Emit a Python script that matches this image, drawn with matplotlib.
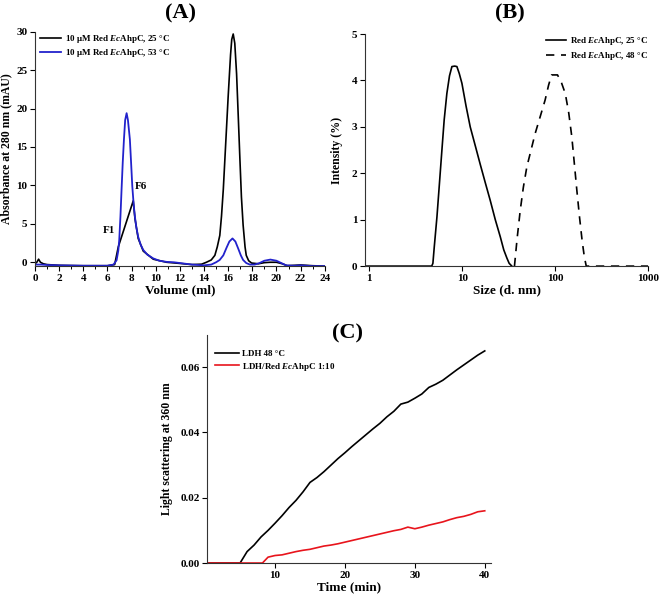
import numpy as np
import matplotlib.pyplot as plt
from matplotlib.ticker import MultipleLocator, FixedLocator, NullLocator

plt.rcParams['font.family'] = ['Liberation Serif', 'DejaVu Serif']
plt.rcParams['font.weight'] = 'bold'
plt.rcParams['mathtext.fontset'] = 'custom'
plt.rcParams['mathtext.it'] = 'Liberation Serif:italic:bold'
plt.rcParams['mathtext.rm'] = 'Liberation Serif:bold'

# (A) size exclusion chromatography
vol_25 = [0, 0.15, 0.3, 0.45, 0.7, 1, 2, 4, 6, 6.6, 6.9, 8.14, 8.28, 8.55, 8.97, 9.8, 10.9,
          12, 13, 13.8, 14.2, 14.6, 14.9, 15.1, 15.31, 15.45, 15.6, 15.8, 16.0, 16.2, 16.3,
          16.42, 16.55, 16.7, 16.85, 16.97, 17.1, 17.24, 17.4, 17.5, 17.7, 17.94, 18.5, 19,
          19.5, 20, 20.5, 20.9, 22, 23, 24]
abs_25 = [-0.2, 0.0, 0.4, 0.0, -0.2, -0.3, -0.4, -0.45, -0.45, -0.3, 2.0, 8.0, 5.7, 3.1,
          1.45, 0.4, 0.0, -0.15, -0.3, -0.25, 0.0, 0.3, 0.9, 2.0, 3.5, 6.0, 9.5, 15.5, 21.5,
          27.0, 29.0, 29.7, 28.5, 24.5, 18.5, 13.6, 8.5, 4.85, 2.0, 0.9, 0.2, -0.1, -0.2,
          -0.05, 0.0, 0.0, -0.2, -0.45, -0.35, -0.45, -0.5]
vol_53 = [0, 0.5, 1, 2, 4, 6, 6.5, 6.76, 6.9, 6.98, 7.08, 7.17, 7.27, 7.37, 7.47, 7.59, 7.7,
          7.86, 7.96, 8.06, 8.17, 8.28, 8.4, 8.55, 8.75, 8.97, 9.3, 9.8, 10.3, 10.9, 11.5,
          12, 13, 14, 14.6, 15.0, 15.3, 15.6, 15.87, 16.1, 16.36, 16.6, 16.83, 17.05, 17.24,
          17.5, 17.8, 18.2, 18.6, 19, 19.5, 20, 20.4, 20.8, 21.5, 22, 23, 24]
abs_53 = [-0.3, -0.3, -0.35, -0.4, -0.45, -0.45, -0.3, 0.26, 1.5, 2.9, 6.0, 9.4, 13.0, 16.0,
          18.5, 19.4, 18.5, 16.0, 13.0, 9.9, 7.6, 5.9, 4.5, 3.3, 2.3, 1.6, 1.0, 0.5, 0.2,
          0.05, 0.0, -0.1, -0.3, -0.4, -0.3, 0.0, 0.3, 0.9, 1.9, 2.7, 3.1, 2.7, 1.8, 0.9, 0.3,
          -0.1, -0.3, -0.3, -0.1, 0.2, 0.35, 0.2, -0.1, -0.4, -0.45, -0.4, -0.5, -0.5]

# (B) DLS size distributions
size_25 = [0.9, 4.7, 4.84, 5.0, 5.35, 5.7, 6.05, 6.4, 6.84, 7.3, 7.75, 8.3, 8.77, 9.3, 9.93,
           11.0, 12.2, 13.8, 15.6, 17.7, 20.0, 22.7, 25.7, 28.0, 30.3, 32.0, 34.2]
int_25 = [0, 0, 0.06, 0.4, 1.06, 1.8, 2.5, 3.15, 3.72, 4.1, 4.3, 4.31, 4.3, 4.15, 3.94,
          3.45, 3.0, 2.6, 2.2, 1.8, 1.42, 1.0, 0.63, 0.35, 0.17, 0.06, 0]
size_48 = [36.5, 39.0, 42.1, 45.5, 49.6, 55.0, 61.0, 69.0, 78.0, 85.0, 91.6, 106.0, 117.0,
           128.5, 140.0, 151.0, 161.0, 171.0, 183.0, 195.0, 206.0, 216.0, 1000.0]
int_48 = [0, 0.6, 1.2, 1.7, 2.14, 2.5, 2.86, 3.22, 3.58, 3.9, 4.12, 4.12, 3.95, 3.72, 3.3,
          2.79, 2.2, 1.64, 1.05, 0.55, 0.2, 0, 0]

# (C) light scattering
time_ldh = [0, 1, 2, 3, 4, 5.0] + list(range(6, 41))
ldh = [0, 0, 0, 0, 0, 0, 0.0035, 0.0055, 0.0080, 0.0100, 0.0122, 0.0145, 0.0170, 0.0192,
       0.0218, 0.0247, 0.0262, 0.0280, 0.0300, 0.0320, 0.0338, 0.0357, 0.0375, 0.0393,
       0.0411, 0.0428, 0.0448, 0.0465, 0.0487, 0.0493, 0.0505, 0.0518, 0.0538, 0.0548,
       0.0560, 0.0576, 0.0592, 0.0607, 0.0622, 0.0637, 0.0650]
time_ahpc = [0, 1, 2, 3, 4, 5, 6, 7, 8.2] + list(range(9, 41))
ldh_ahpc = [0, 0, 0, 0, 0, 0, 0, 0, 0, 0.0018, 0.0023, 0.0025, 0.0030, 0.0035, 0.0039,
            0.0042, 0.0047, 0.0052, 0.0055, 0.0059, 0.0064, 0.0069, 0.0074, 0.0079, 0.0084,
            0.0089, 0.0094, 0.0099, 0.0103, 0.0110, 0.0105, 0.0110, 0.0116, 0.0121, 0.0126,
            0.0133, 0.0139, 0.0143, 0.0149, 0.0157, 0.0160]

fig = plt.figure(figsize=(6.6, 5.98), dpi=100)


def style(ax):
    ax.spines['top'].set_visible(False)
    ax.spines['right'].set_visible(False)
    for sp in ax.spines.values():
        sp.set_color('#333333')
    ax.tick_params(axis='both', which='major', direction='out', length=3.5, width=0.8,
                   labelsize=8, pad=2)
    ax.tick_params(axis='both', which='minor', direction='out', length=2, width=0.7)
    for lab in ax.get_xticklabels() + ax.get_yticklabels():
        lab.set_fontweight('bold')


# panel A
axA = fig.add_axes([0.053, 0.555, 0.439, 0.392])
axA.plot(vol_25, abs_25, color='black', lw=1.2, label=r'10 μM Red $\mathit{Ec}$AhpC, 25 °C')
axA.plot(vol_53, abs_53, color='#2222cc', lw=1.3, label=r'10 μM Red $\mathit{Ec}$AhpC, 53 °C')
axA.set_xlim(0, 24)
axA.set_ylim(-0.5, 30)
axA.xaxis.set_major_locator(MultipleLocator(2))
axA.xaxis.set_minor_locator(MultipleLocator(1))
axA.yaxis.set_major_locator(MultipleLocator(5))
style(axA)
axA.set_xlabel('Volume (ml)', fontsize=9.5, fontweight='bold', labelpad=1)
axA.set_ylabel('Absorbance at 280 nm (mAU)', fontsize=8.5, fontweight='bold', labelpad=3)
axA.text(6.1, 4.1, 'F1', fontsize=8, fontweight='bold', ha='center', va='center')
axA.text(8.8, 9.8, 'F6', fontsize=8, fontweight='bold', ha='center', va='center')
axA.legend(loc='upper left', bbox_to_anchor=(-0.01, 1.03), fontsize=6.5, frameon=False,
           handlelength=2.3, handletextpad=0.5, labelspacing=0.3)
fig.text(0.273, 0.978, '(A)', fontsize=16, fontweight='bold', ha='center', va='center')

# panel B
axB = fig.add_axes([0.553, 0.555, 0.429, 0.388])
axB.plot(size_25, int_25, color='black', lw=1.2, label=r'Red $\mathit{Ec}$AhpC, 25 °C')
axB.plot(size_48, int_48, color='black', lw=1.2, ls=(0, (5, 4)),
         label=r'Red $\mathit{Ec}$AhpC, 48 °C')
axB.set_xscale('log')
axB.set_xlim(0.9, 1000)
axB.set_ylim(0, 5)
axB.xaxis.set_major_locator(FixedLocator([1, 10, 100, 1000]))
axB.xaxis.set_minor_locator(NullLocator())
axB.set_xticklabels(['1', '10', '100', '1000'])
axB.yaxis.set_major_locator(MultipleLocator(1))
style(axB)
axB.set_xlabel('Size (d. nm)', fontsize=9.5, fontweight='bold', labelpad=1)
axB.set_ylabel('Intensity (%)', fontsize=8.5, fontweight='bold', labelpad=6)
axB.legend(loc='upper right', bbox_to_anchor=(1.03, 1.03), fontsize=6.5, frameon=False,
           handlelength=2.2, handletextpad=0.5, labelspacing=0.3)
fig.text(0.773, 0.978, '(B)', fontsize=16, fontweight='bold', ha='center', va='center')

# panel C
axC = fig.add_axes([0.314, 0.0585, 0.430, 0.382])
axC.plot(time_ldh, ldh, color='black', lw=1.2, label='LDH 48 °C')
axC.plot(time_ahpc, ldh_ahpc, color='#e8141c', lw=1.2,
         label=r'LDH/Red $\mathit{Ec}$AhpC 1:10')
axC.set_xlim(0.3, 40.9)
axC.set_ylim(0, 0.07)
axC.xaxis.set_major_locator(FixedLocator([10, 20, 30, 40]))
axC.yaxis.set_major_locator(FixedLocator([0, 0.02, 0.04, 0.06]))
axC.yaxis.set_major_formatter(plt.FormatStrFormatter('%.2f'))
style(axC)
axC.set_xlabel('Time (min)', fontsize=9.5, fontweight='bold', labelpad=1)
axC.set_ylabel('Light scattering at 360 nm', fontsize=8.5, fontweight='bold', labelpad=5)
axC.legend(loc='upper left', bbox_to_anchor=(0.0, 0.97), fontsize=6.5, frameon=False,
           handlelength=2.6, handletextpad=0.4, labelspacing=0.3)
fig.text(0.526, 0.443, '(C)', fontsize=16, fontweight='bold', ha='center', va='center')

fig.savefig('out.png', dpi=100)
